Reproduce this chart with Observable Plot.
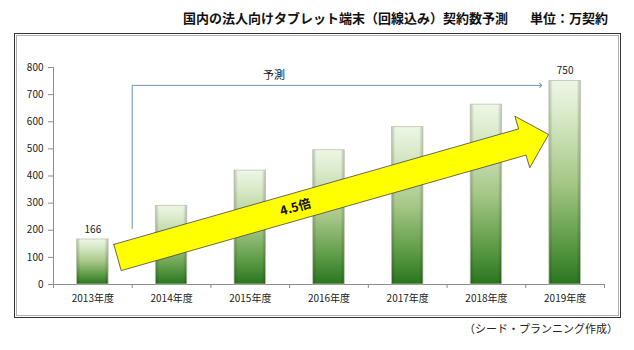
<!DOCTYPE html>
<html>
<head>
<meta charset="utf-8">
<script src="https://cdn.jsdelivr.net/npm/d3@7"></script>
<script src="https://cdn.jsdelivr.net/npm/@observablehq/plot@0.6"></script>
<style>
  html, body { margin: 0; padding: 0; background: #fff; }
  body { width: 634px; height: 350px; position: relative; overflow: hidden;
         font-family: "Noto Sans CJK JP", "Noto Sans", sans-serif; color: #111; }
  .title { position: absolute; top: 8px; font-size: 13px; font-weight: 700; white-space: nowrap; }
  #frame { position: absolute; left: 14px; top: 33px; width: 605px; height: 283px;
           border: 1px solid #333; box-shadow: inset 0 0 0 1px #fff, inset 0 0 0 2px #b0b0b0; }
  #frame svg { position: absolute; left: 0; top: 0; }
  #caption { position: absolute; right: 16px; top: 320px; font-size: 11px; white-space: nowrap; color: #222; }
</style>
</head>
<body>
<div class="title" style="left:183px">国内の法人向けタブレット端末（回線込み）契約数予測</div>
<div class="title" style="left:530px">単位：万契約</div>
<div id="frame"></div>
<div id="caption">（シード・プランニング作成）</div>
<script>
// ---- data ----
const years = [2013, 2014, 2015, 2016, 2017, 2018, 2019];
const contracts = [166, 290, 420, 495, 580, 663, 750];
const yTicks = [0, 100, 200, 300, 400, 500, 600, 700, 800];
const labeledYears = [2013, 2019];

// forecast bracket ("予測") in data space
const forecastX = [2013.5, 2013.5, 2018.69];
const forecastY = [205, 734, 734];
const forecastLabel = "予測";
const forecastLabelX = [2015.3];
const forecastLabelY = [770];

// big yellow trend arrow in data space (closed polygon)
const trendX = [2013.266, 2018.409, 2018.361, 2018.790, 2018.550, 2018.503, 2013.360, 2013.266];
const trendY = [147.8, 573.6, 620.5, 553.0, 430.2, 477.0, 51.2, 147.8];
const trendLabel = "4.5倍";
const trendLabelX = [2015.575];
const trendLabelY = [284];

// ---- build tables ----
const bars = years.map((year, i) => ({year, value: contracts[i]}));
const forecast = forecastX.map((x, i) => ({x, y: forecastY[i]}));
const trend = trendX.map((x, i) => ({x, y: trendY[i]}));
const xDomain = [years[0] - 0.5, years[years.length - 1] + 0.5];
const boundaries = [...years.map(y => y - 0.5), years[years.length - 1] + 0.5];

const chart = Plot.plot({
  width: 605,
  height: 283,
  marginLeft: 38,
  marginRight: 16,
  marginTop: 33,
  marginBottom: 33,
  style: {fontFamily: '"Noto Sans CJK JP", "Noto Sans", sans-serif', fontSize: "10px", color: "#222", background: "transparent"},
  x: {type: "linear", domain: xDomain, axis: null},
  y: {domain: [0, 800], axis: null},
  marks: [
    Plot.ruleX([xDomain[0]], {y1: 0, y2: 800, stroke: "#8c8c8c"}),
    Plot.ruleY([0], {stroke: "#8c8c8c"}),
    Plot.axisY({ticks: yTicks, tickSize: 5, tickPadding: 5, stroke: "#8c8c8c", fill: "#222", fontSize: 10, label: null}),
    Plot.axisX({ticks: boundaries, tickSize: 4, tickFormat: () => "", stroke: "#8c8c8c", label: null}),
    Plot.axisX({ticks: years, tickSize: 0, tickPadding: 10, tickFormat: d => `${d}年度`, fill: "#222", fontSize: 10, label: null}),
    Plot.rectY(bars, {x1: d => d.year - 0.2, x2: d => d.year + 0.2, y: "value", fill: "url(#barGrad)"}),
    Plot.rectY(bars, {x1: d => d.year - 0.2, x2: d => d.year + 0.2, y: "value", fill: "url(#barShade)", stroke: "#b9c4ad", strokeWidth: 0.8}),
    Plot.text(bars.filter(d => labeledYears.includes(d.year)), {x: "year", y: "value", text: d => String(d.value), dy: -10, fontSize: 10, fill: "#222"}),
    Plot.line(forecast, {x: "x", y: "y", stroke: "#6f8fb8", strokeWidth: 1, curve: "linear", markerEnd: "arrow", strokeLinecap: "butt", strokeLinejoin: "miter"}),
    Plot.text(forecastLabelX, {x: d => d, y: (d, i) => forecastLabelY[i], text: () => forecastLabel, fontSize: 11, fill: "#111"}),
    Plot.line(trend, {x: "x", y: "y", fill: "#ffff00", stroke: "#444", strokeWidth: 0.8, curve: "linear", strokeLinejoin: "miter"}),
    Plot.text(trendLabelX, {x: d => d, y: (d, i) => trendLabelY[i], text: () => trendLabel, rotate: -16, fontSize: 12.5, fontWeight: "bold", fill: "#111"})
  ]
});

const defs = document.createElementNS("http://www.w3.org/2000/svg", "defs");
defs.innerHTML = `
  <linearGradient id="barGrad" x1="0" y1="0" x2="0" y2="1">
    <stop offset="0" stop-color="#eef6e6"/>
    <stop offset="0.15" stop-color="#dcebcc"/>
    <stop offset="0.5" stop-color="#a6c788"/>
    <stop offset="0.8" stop-color="#5c9a45"/>
    <stop offset="1" stop-color="#2a7520"/>
  </linearGradient>
  <linearGradient id="barShade" x1="0" y1="0" x2="1" y2="0">
    <stop offset="0" stop-color="#000" stop-opacity="0.22"/>
    <stop offset="0.12" stop-color="#000" stop-opacity="0"/>
    <stop offset="0.88" stop-color="#000" stop-opacity="0"/>
    <stop offset="1" stop-color="#000" stop-opacity="0.22"/>
  </linearGradient>`;
chart.insertBefore(defs, chart.firstChild);
document.getElementById("frame").appendChild(chart);
</script>
</body>
</html>
